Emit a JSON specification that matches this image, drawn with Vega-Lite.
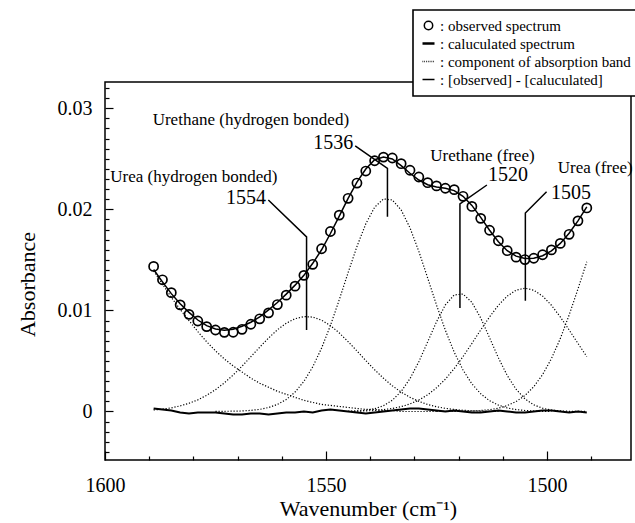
{
  "$schema": "https://vega.github.io/schema/vega-lite/v6.json",
  "width": 526,
  "height": 378,
  "autosize": {"type": "none"},
  "padding": {"left": 105, "top": 82, "right": 4, "bottom": 63},
  "background": "white",
  "config": {
    "view": {"stroke": "black", "strokeWidth": 1.5},
    "font": "Liberation Serif",
    "legend": {"strokeWidth": 1.6},
    "axis": {
      "labelFont": "Liberation Serif", "labelFontSize": 20, "labelColor": "black",
      "titleFont": "Liberation Serif", "titleFontSize": 22, "titleFontWeight": "normal", "titleColor": "black",
      "tickColor": "black", "tickWidth": 1.2, "domain": false, "grid": false
    }
  },
  "resolve": {"axis": {"x": "independent", "y": "independent"}},
  "datasets": {
    "spec": [
      {"wn":1589,"obs":0.01435,"calc":0.01405,"res":0.0003,"A":0.0139,"B":0.00015},
      {"wn":1587,"obs":0.01303,"calc":0.01283,"res":0.0002,"A":0.0126,"B":0.00023},
      {"wn":1585,"obs":0.01176,"calc":0.01166,"res":0.0001,"A":0.0113,"B":0.00036},
      {"wn":1583,"obs":0.01055,"calc":0.01065,"res":-0.0001,"A":0.0101,"B":0.00055},
      {"wn":1581,"obs":0.00961,"calc":0.00981,"res":-0.0002,"A":0.009,"B":0.00081},
      {"wn":1579,"obs":0.00895,"calc":0.00905,"res":-0.0001,"A":0.0079,"B":0.00115},
      {"wn":1577,"obs":0.0084,"calc":0.0085,"res":-0.0001,"A":0.0069,"B":0.0016},
      {"wn":1575,"obs":0.00806,"calc":0.00816,"res":-0.0001,"A":0.006,"B":0.00216,"C":0.00001},
      {"wn":1573,"obs":0.00783,"calc":0.00803,"res":-0.0002,"A":0.0052,"B":0.00283,"C":0.00002},
      {"wn":1571,"obs":0.00784,"calc":0.00814,"res":-0.0003,"A":0.0045,"B":0.00361,"C":0.00003},
      {"wn":1569,"obs":0.00813,"calc":0.00843,"res":-0.0003,"A":0.0039,"B":0.00448,"C":0.00005},
      {"wn":1567,"obs":0.00863,"calc":0.00883,"res":-0.0002,"A":0.0033,"B":0.00542,"C":0.00011},
      {"wn":1565,"obs":0.00917,"calc":0.00937,"res":-0.0002,"A":0.0028,"B":0.00636,"C":0.00021},
      {"wn":1563,"obs":0.00976,"calc":0.01006,"res":-0.0003,"A":0.0024,"B":0.00727,"C":0.00039},
      {"wn":1561,"obs":0.01058,"calc":0.01078,"res":-0.0002,"A":0.002,"B":0.00808,"C":0.0007},
      {"wn":1559,"obs":0.01151,"calc":0.01161,"res":-0.0001,"A":0.0017,"B":0.00873,"C":0.00118},
      {"wn":1557,"obs":0.0124,"calc":0.0125,"res":-0.0001,"A":0.0014,"B":0.00918,"C":0.00192},
      {"wn":1555,"obs":0.01347,"calc":0.01347,"res":0,"A":0.0011,"B":0.00939,"C":0.00298},
      {"wn":1553,"obs":0.01456,"calc":0.01466,"res":-0.0001,"A":0.0009,"B":0.00934,"C":0.00442},
      {"wn":1551,"obs":0.0161,"calc":0.016,"res":0.0001,"A":0.0007,"B":0.00903,"C":0.00627},
      {"wn":1549,"obs":0.01781,"calc":0.01761,"res":0.0002,"A":0.0006,"B":0.0085,"C":0.00851},
      {"wn":1547,"obs":0.01943,"calc":0.01933,"res":0.0001,"A":0.0005,"B":0.00777,"C":0.01106},
      {"wn":1545,"obs":0.02109,"calc":0.02109,"res":0,"A":0.0004,"B":0.00691,"C":0.01374,"D":0.00002,"E":0.00002},
      {"wn":1543,"obs":0.0226,"calc":0.0227,"res":-0.0001,"A":0.0003,"B":0.00599,"C":0.01633,"D":0.00005,"E":0.00003},
      {"wn":1541,"obs":0.02379,"calc":0.02399,"res":-0.0002,"A":0.0002,"B":0.00504,"C":0.01857,"D":0.00012,"E":0.00006},
      {"wn":1539,"obs":0.02481,"calc":0.02491,"res":-0.0001,"A":0.0002,"B":0.00413,"C":0.02021,"D":0.00027,"E":0.0001},
      {"wn":1537,"obs":0.02517,"calc":0.02517,"res":0,"A":0.0001,"B":0.00329,"C":0.02103,"D":0.00057,"E":0.00018},
      {"wn":1535,"obs":0.02508,"calc":0.02498,"res":0.0001,"A":0.0001,"B":0.00254,"C":0.02093,"D":0.00111,"E":0.0003},
      {"wn":1533,"obs":0.02452,"calc":0.02432,"res":0.0002,"A":0,"B":0.00192,"C":0.01994,"D":0.00198,"E":0.00048},
      {"wn":1531,"obs":0.02387,"calc":0.02357,"res":0.0003,"A":0,"B":0.0014,"C":0.01817,"D":0.00325,"E":0.00075},
      {"wn":1529,"obs":0.0232,"calc":0.0229,"res":0.0003,"A":0,"B":0.001,"C":0.01584,"D":0.00493,"E":0.00113},
      {"wn":1527,"obs":0.02264,"calc":0.02244,"res":0.0002,"A":0,"B":0.00069,"C":0.01321,"D":0.00689,"E":0.00165},
      {"wn":1525,"obs":0.02232,"calc":0.02222,"res":0.0001,"A":0,"B":0.00047,"C":0.01053,"D":0.00888,"E":0.00234,"F":0},
      {"wn":1523,"obs":0.02209,"calc":0.02209,"res":0,"B":0.00031,"C":0.00804,"D":0.01054,"E":0.0032,"F":0.00001},
      {"wn":1521,"obs":0.02195,"calc":0.02185,"res":0.0001,"B":0.0002,"C":0.00587,"D":0.01153,"E":0.00424,"F":0.00001},
      {"wn":1519,"obs":0.02129,"calc":0.02129,"res":0,"B":0.00012,"C":0.0041,"D":0.01162,"E":0.00543,"F":0.00002},
      {"wn":1517,"obs":0.02029,"calc":0.02039,"res":-0.0001,"B":0.00007,"C":0.00274,"D":0.0108,"E":0.00673,"F":0.00005},
      {"wn":1515,"obs":0.01911,"calc":0.01921,"res":-0.0001,"B":0.00004,"C":0.00175,"D":0.00925,"E":0.00807,"F":0.0001},
      {"wn":1513,"obs":0.01793,"calc":0.01793,"res":0,"B":0.00002,"C":0.00107,"D":0.0073,"E":0.00936,"F":0.00018},
      {"wn":1511,"obs":0.01689,"calc":0.01679,"res":0.0001,"B":0.00001,"C":0.00063,"D":0.00531,"E":0.01051,"F":0.00033},
      {"wn":1509,"obs":0.01591,"calc":0.01591,"res":0,"C":0.00035,"D":0.00356,"E":0.01142,"F":0.00058},
      {"wn":1507,"obs":0.01527,"calc":0.01537,"res":-0.0001,"C":0.00019,"D":0.0022,"E":0.012,"F":0.00098},
      {"wn":1505,"obs":0.01503,"calc":0.01513,"res":-0.0001,"C":0.0001,"D":0.00125,"E":0.0122,"F":0.00158},
      {"wn":1503,"obs":0.01516,"calc":0.01516,"res":0,"C":0.00005,"D":0.00066,"E":0.012,"F":0.00245},
      {"wn":1501,"obs":0.01551,"calc":0.01541,"res":0.0001,"C":0.00002,"D":0.00032,"E":0.01142,"F":0.00365},
      {"wn":1499,"obs":0.01599,"calc":0.01589,"res":0.0001,"C":0.00001,"D":0.00014,"E":0.01051,"F":0.00523},
      {"wn":1497,"obs":0.01663,"calc":0.01663,"res":0,"D":0.00006,"E":0.00936,"F":0.00721},
      {"wn":1495,"obs":0.01753,"calc":0.01763,"res":-0.0001,"D":0.00002,"E":0.00807,"F":0.00954},
      {"wn":1493,"obs":0.01886,"calc":0.01886,"res":0,"D":0.00001,"E":0.00673,"F":0.01212},
      {"wn":1491,"obs":0.02014,"calc":0.02024,"res":-0.0001,"D":0,"E":0.00543,"F":0.01481}
    ],
    "pointers": [
      {"grp":"1554","ord":1,"wn":1563.05,"a":0.02093},
      {"grp":"1554","ord":2,"wn":1554.4,"a":0.01727},
      {"grp":"1554","ord":3,"wn":1554.4,"a":0.00806},
      {"grp":"1536","ord":1,"wn":1543.4,"a":0.02627},
      {"grp":"1536","ord":2,"wn":1536.1,"a":0.02406},
      {"grp":"1536","ord":3,"wn":1536.1,"a":0.01927},
      {"grp":"1520","ord":1,"wn":1513.6,"a":0.02241},
      {"grp":"1520","ord":2,"wn":1519.7,"a":0.02053},
      {"grp":"1520","ord":3,"wn":1519.7,"a":0.01024},
      {"grp":"1505","ord":1,"wn":1500.1,"a":0.02175},
      {"grp":"1505","ord":2,"wn":1504.9,"a":0.01964},
      {"grp":"1505","ord":3,"wn":1504.9,"a":0.01096}
    ],
    "labels": [
      {"txt":"Urethane (hydrogen bonded)","kind":"name","wn":1567.0,"a":0.02884},
      {"txt":"1536","kind":"num","wn":1548.35,"a":0.02654},
      {"txt":"Urea (hydrogen bonded)","kind":"name","wn":1579.9,"a":0.0232},
      {"txt":"1554","kind":"num","wn":1568.1,"a":0.02114},
      {"txt":"Urethane (free)","kind":"name","wn":1514.6,"a":0.02528},
      {"txt":"1520","kind":"num","wn":1508.8,"a":0.02335},
      {"txt":"Urea (free)","kind":"name","wn":1489.1,"a":0.0241},
      {"txt":"1505","kind":"num","wn":1494.6,"a":0.02162}
    ]
  },
  "encoding": {
    "x": {"field": "wn", "type": "quantitative", "scale": {"domain": [1481, 1600], "reverse": true, "nice": false, "zero": false}, "axis": null},
    "y": {"field": "a", "type": "quantitative", "scale": {"domain": [-0.0048, 0.0326], "nice": false, "zero": false}, "axis": null}
  },
  "layer": [
    {
      "data": {"name": "spec"},
      "transform": [
        {"fold": ["A", "B", "C", "D", "E", "F"], "as": ["band", "a"]},
        {"filter": "isValid(datum.a)"}
      ],
      "mark": {"type": "line", "color": "black", "strokeWidth": 1.2, "strokeDash": [1.2, 1.8]},
      "encoding": {
        "detail": {"field": "band"},
        "x": {
          "field": "wn", "type": "quantitative",
          "scale": {"domain": [1481, 1600], "reverse": true, "nice": false, "zero": false},
          "axis": {
            "orient": "bottom", "offset": -4, "tickSize": 4, "labels": false,
            "values": [1590, 1580, 1570, 1560, 1540, 1530, 1520, 1510, 1490],
            "title": "Wavenumber (cm⁻¹)", "titleY": 52, "titleBaseline": "middle"
          }
        },
        "y": {
          "field": "a", "type": "quantitative",
          "scale": {"domain": [-0.0048, 0.0326], "nice": false, "zero": false},
          "axis": {
            "orient": "left", "offset": -4, "tickSize": 4, "labels": false,
            "values": [-0.004, -0.003, -0.002, -0.001, 0.001, 0.002, 0.003, 0.004, 0.005, 0.006, 0.007, 0.008, 0.009, 0.011, 0.012, 0.013, 0.014, 0.015, 0.016, 0.017, 0.018, 0.019, 0.021, 0.022, 0.023, 0.024, 0.025, 0.026, 0.027, 0.028, 0.029, 0.031, 0.032],
            "title": "Absorbance", "titleAngle": -90, "titleX": -81.5, "titleY": 202, "titleBaseline": "middle", "titleAlign": "center"
          }
        }
      }
    },
    {
      "data": {"name": "spec"},
      "transform": [{"fold": ["res"], "as": ["series", "a"]}],
      "mark": {"type": "line", "color": "black", "strokeWidth": 2},
      "encoding": {
        "x": {
          "field": "wn", "type": "quantitative",
          "scale": {"domain": [1481, 1600], "reverse": true, "nice": false, "zero": false},
          "axis": {
            "orient": "bottom", "offset": -9, "tickSize": 9, "labelPadding": 15, "labelFlush": false, "labelOverlap": false,
            "values": [1600, 1550, 1500], "format": "d", "title": null
          }
        },
        "y": {
          "field": "a", "type": "quantitative",
          "scale": {"domain": [-0.0048, 0.0326], "nice": false, "zero": false},
          "axis": {
            "orient": "left", "offset": -8, "tickSize": 8, "labelPadding": 13, "labelFlush": false, "labelOverlap": false,
            "values": [0, 0.01, 0.02, 0.03],
            "labelExpr": "datum.value === 0 ? '0' : format(datum.value, '.2f')",
            "title": null
          }
        }
      }
    },
    {
      "data": {"name": "spec"},
      "transform": [{"fold": ["calc"], "as": ["series", "a"]}],
      "mark": {"type": "line", "color": "black", "strokeWidth": 1.5},
      "encoding": {}
    },
    {
      "data": {"name": "pointers"},
      "mark": {"type": "line", "color": "black", "strokeWidth": 1.5},
      "encoding": {"detail": {"field": "grp"}, "order": {"field": "ord"}}
    },
    {
      "data": {"name": "spec"},
      "transform": [{"fold": ["obs"], "as": ["series", "a"]}],
      "mark": {"type": "point", "filled": false, "color": "black", "strokeWidth": 1.7, "size": 170, "opacity": 1},
      "encoding": {
        "shape": {
          "datum": ": observed spectrum", "type": "nominal",
          "scale": {
            "domain": [": observed spectrum", ": caluculated spectrum", ": component of absorption band", ": [observed] - [caluculated]"],
            "range": [
              "M0.7,0A0.7,0.7,0,1,1,-0.7,0A0.7,0.7,0,1,1,0.7,0Z",
              "M-1,-0.09H1M-1,0.09H1M-1,0H1",
              "M-1,0H-0.88M-0.7,0H-0.58M-0.4,0H-0.28M-0.1,0H0.02M0.2,0H0.32M0.5,0H0.62M0.8,0H0.92",
              "M-1,0H1"
            ]
          },
          "legend": {
            "orient": "none", "legendX": 308, "legendY": -72, "title": null, "direction": "vertical",
            "symbolSize": 144, "symbolStrokeWidth": 1.5, "symbolStrokeColor": "black",
            "labelFont": "Liberation Serif", "labelFontSize": 15, "labelColor": "black", "labelLimit": 0,
            "labelOffset": 4, "rowPadding": 2, "padding": 8,
            "strokeColor": "black", "fillColor": "white"
          }
        }
      }
    },
    {
      "data": {"name": "labels"},
      "transform": [{"filter": "datum.kind === 'name'"}],
      "mark": {"type": "text", "font": "Liberation Serif", "fontSize": 17, "align": "center", "baseline": "middle", "color": "black"},
      "encoding": {"text": {"field": "txt"}}
    },
    {
      "data": {"name": "labels"},
      "transform": [{"filter": "datum.kind === 'num'"}],
      "mark": {"type": "text", "font": "Liberation Serif", "fontSize": 20, "align": "center", "baseline": "middle", "color": "black"},
      "encoding": {"text": {"field": "txt"}}
    }
  ]
}
